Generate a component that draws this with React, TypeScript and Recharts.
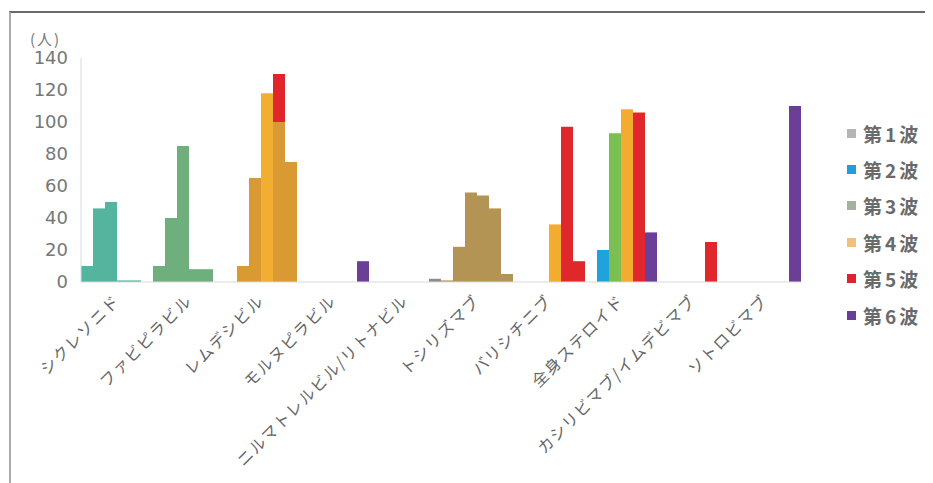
import React from "react";
import { BarChart, Bar, XAxis, YAxis, Legend, Cell } from "recharts";

const categories = [
  "シクレソニド",
  "ファビピラビル",
  "レムデシビル",
  "モルヌピラビル",
  "ニルマトレルビル/リトナビル",
  "トシリズマブ",
  "バリシチニブ",
  "全身ステロイド",
  "カシリビマブ/イムデビマブ",
  "ソトロビマブ",
];
const seriesNames = ["第1波", "第2波", "第3波", "第4波", "第5波", "第6波"];
const wave1 = [10, 10, 0, 0, 0, 1, 0, 0, 0, 0];
const wave2 = [46, 40, 10, 0, 0, 22, 0, 20, 0, 0];
const wave3 = [50, 85, 65, 0, 0, 56, 0, 93, 0, 0];
const wave4 = [1, 8, 118, 0, 0, 54, 36, 108, 0, 0];
const wave5 = [1, 8, 130, 0, 0, 46, 97, 106, 25, 0];
const wave6 = [0, 0, 75, 13, 2, 5, 13, 31, 0, 110];
const yTicks = [0, 20, 40, 60, 80, 100, 120, 140];

const waves = [wave1, wave2, wave3, wave4, wave5, wave6];
const keys = ["w1", "w2", "w3", "w4", "w5", "w6"];
const data = categories.map((name, i) => {
  const row: Record<string, string | number> = { name };
  waves.forEach((w, s) => (row[keys[s]] = w[i]));
  return row;
});

// styles
const seriesColors = ["#ABABAB", "#1FA3DA", "#7BBF52", "#F2AC30", "#E0282C", "#6B3E97"];
const legendColors = ["#B5B5B5", "#1BA1D8", "#A3B29C", "#F2C07C", "#D9262C", "#6A3C96"];
const groupTint: (string | null)[] = ["#55B49D", "#6FAF7E", "#D99A33", null, null, "#B39455", null, null, null, null];

function cellFill(s: number, c: number): string {
  if (c === 2 && s === 3) return "#F1AE30";
  if (c === 2 && s === 4) return "url(#remRed)";
  if (c === 4 && s === 5) return "#8C8C8C";
  if (c === 6 && s === 5) return "#E0282C";
  const t = groupTint[c];
  return t ? t : seriesColors[s];
}

const CatTick = (props: any) => {
  const { x, y, payload } = props;
  const ax = x + 4;
  const ay = y + 12;
  return (
    <text
      x={ax}
      y={ay}
      transform={`rotate(-45, ${ax}, ${ay})`}
      textAnchor="end"
      fontSize={16}
      letterSpacing={1.4}
      fill="#666"
      fontFamily="'Noto Sans CJK JP', sans-serif"
    >
      {payload.value}
    </text>
  );
};

const LegendBox = () => (
  <div style={{ fontFamily: "'Noto Sans CJK JP', sans-serif" }}>
    {seriesNames.map((n, i) => (
      <div key={n} style={{ display: "flex", alignItems: "center", height: 36.4 }}>
        <span style={{ display: "inline-block", width: 9, height: 9, background: legendColors[i], marginRight: 7 }} />
        <span style={{ fontSize: 19, fontWeight: 700, color: "#6a6a6a", letterSpacing: 3 }}>{n}</span>
      </div>
    ))}
  </div>
);

export default function App() {
  return (
    <div style={{ position: "relative", width: 925, height: 475 }}>
      <div
        style={{
          position: "absolute",
          left: 1,
          top: 3,
          width: 924,
          height: 472,
          borderTop: "2px solid #6a6a6a",
          borderLeft: "2px solid #ababab",
        }}
      />
      <div
        style={{
          position: "absolute",
          left: 22,
          top: 20,
          fontSize: 15,
          color: "#777",
          letterSpacing: 2,
          fontFamily: "'Noto Sans CJK JP', sans-serif",
        }}
      >
        (人)
      </div>
      <BarChart
        width={925}
        height={475}
        data={data}
        margin={{ top: 50, right: 42, bottom: 11, left: 0 }}
        barCategoryGap={0}
        barGap={0}
        style={{ position: "absolute", left: 0, top: 0 }}
      >
        <defs>
          <linearGradient id="remRed" x1="0" y1="0" x2="0" y2="1">
            <stop offset="0" stopColor="#E0262A" />
            <stop offset="0.23" stopColor="#E0262A" />
            <stop offset="0.23" stopColor="#D99A33" />
            <stop offset="1" stopColor="#D99A33" />
          </linearGradient>
        </defs>
        <XAxis
          dataKey="name"
          interval={0}
          height={190}
          tickLine={false}
          axisLine={{ stroke: "#D9D9D9" }}
          tick={<CatTick />}
        />
        <YAxis
          width={73}
          domain={[0, 140]}
          ticks={yTicks}
          tickLine={false}
          axisLine={{ stroke: "#D9D9D9" }}
          tickMargin={7}
          tick={{ fontSize: 18, fill: "#777", fontFamily: "'DejaVu Sans', sans-serif" }}
        />
        <Legend
          layout="vertical"
          align="right"
          verticalAlign="middle"
          content={<LegendBox />}
          wrapperStyle={{ position: "absolute", left: 839, top: 107, width: 90, height: 220 }}
        />
        {keys.map((k, s) => (
          <Bar key={k} dataKey={k} name={seriesNames[s]} fill={seriesColors[s]} isAnimationActive={false}>
            {data.map((_, c) => (
              <Cell key={c} fill={cellFill(s, c)} />
            ))}
          </Bar>
        ))}
      </BarChart>
    </div>
  );
}
